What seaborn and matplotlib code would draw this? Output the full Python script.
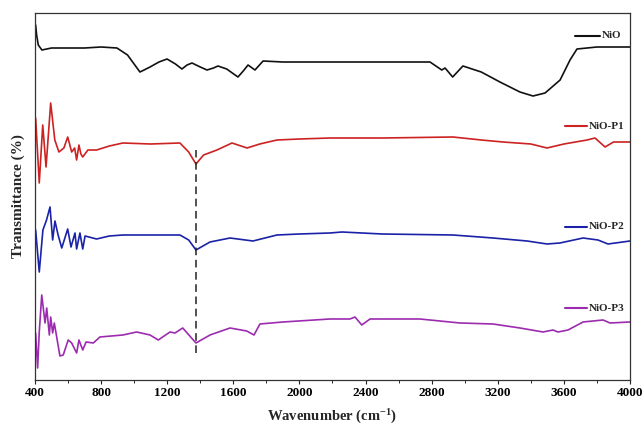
import matplotlib
matplotlib.use("Agg")
import matplotlib.pyplot as plt
import seaborn as sns
import pandas as pd
from matplotlib.ticker import MultipleLocator, NullLocator

# ---- data (offset transmittance, arbitrary units) ----
nio_wn = [404, 410, 420, 442, 500, 600, 700, 800, 896, 960, 1035, 1060, 1096, 1150, 1199, 1250,
          1289, 1320, 1350, 1400, 1441, 1480, 1507, 1560, 1628, 1660, 1689, 1731, 1780, 1900,
          2185, 2500, 2790, 2861, 2881, 2927, 2989, 3100, 3213, 3334, 3413, 3486, 3577, 3637,
          3679, 3800, 4000]
nio_t = [355, 345, 335, 330, 332, 332, 332, 333, 332, 325, 308, 310, 313, 318, 321, 316,
         311, 315, 317, 313, 310, 312, 314, 311, 303, 309, 315, 310, 319, 318,
         318, 318, 318, 310, 312, 303, 314, 308, 298, 288, 284, 287, 300, 320,
         331, 333, 333]

p1_wn = [404, 426, 447, 467, 495, 520, 545, 575, 598, 622, 640, 652, 666, 678, 689, 720, 773,
         850, 932, 1100, 1277, 1330, 1374, 1420, 1501, 1592, 1683, 1760, 1864, 2000, 2185,
         2500, 2929, 3100, 3232, 3400, 3498, 3600, 3740, 3788, 3849, 3900, 4000]
p1_t = [262, 197, 255, 213, 277, 240, 228, 232, 243, 228, 232, 220, 235, 226, 223, 230, 230,
        234, 237, 236, 237, 228, 216, 225, 230, 237, 232, 236, 240, 241, 242,
        242, 243, 240, 238, 236, 232, 236, 240, 242, 233, 238, 238]

p2_wn = [404, 426, 448, 470, 491, 507, 521, 540, 562, 598, 618, 642, 652, 672, 689, 703, 773,
         850, 932, 1100, 1277, 1330, 1374, 1459, 1580, 1719, 1864, 2000, 2185, 2257, 2500,
         2929, 3171, 3377, 3498, 3576, 3716, 3806, 3867, 4000]
p2_t = [150, 108, 150, 160, 173, 140, 159, 145, 132, 151, 133, 147, 131, 147, 131, 144, 141,
        144, 145, 145, 145, 140, 130, 138, 142, 139, 145, 146, 147, 148, 146,
        145, 142, 139, 136, 137, 142, 140, 136, 139]

p3_wn = [404, 416, 426, 441, 461, 471, 487, 495, 507, 517, 551, 571, 601, 622, 652, 666, 689,
         709, 753, 793, 932, 1015, 1096, 1146, 1217, 1247, 1294, 1374, 1459, 1580, 1681,
         1725, 1761, 1900, 2185, 2306, 2336, 2377, 2427, 2729, 2971, 3171, 3334, 3474, 3534,
         3564, 3625, 3716, 3837, 3879, 4000]
p3_t = [47, 12, 48, 85, 57, 72, 45, 63, 47, 57, 24, 25, 40, 37, 27, 40, 30,
        38, 37, 43, 45, 48, 45, 40, 48, 47, 52, 37, 45, 52, 49,
        45, 56, 58, 61, 61, 63, 55, 61, 61, 57, 56, 52, 48, 50,
        48, 50, 58, 60, 57, 58]

labels = ["NiO", "NiO-P1", "NiO-P2", "NiO-P3"]
colors = ["#111111", "#cc2222", "#1a22a8", "#9c2bb0"]
x_ticks = [400, 800, 1200, 1600, 2000, 2400, 2800, 3200, 3600, 4000]
marker_wn = 1374
marker_top = 230
marker_bottom = 27

# ---- plotting ----
sns.set_style("ticks")
plt.rcParams["font.family"] = ["Liberation Serif", "DejaVu Serif"]
plt.rcParams["font.weight"] = "bold"
plt.rcParams["mathtext.fontset"] = "custom"
plt.rcParams["mathtext.rm"] = "Liberation Serif:bold"
plt.rcParams["mathtext.bf"] = "Liberation Serif:bold"
plt.rcParams["mathtext.default"] = "bf"

fig = plt.figure(figsize=(6.44, 4.25), dpi=100)
ax = fig.add_axes([0.0543, 0.1059, 0.9240, 0.8635])

series = [(nio_wn, nio_t), (p1_wn, p1_t), (p2_wn, p2_t), (p3_wn, p3_t)]
for (wn, t), lab, col in zip(series, labels, colors):
    df = pd.DataFrame({"wn": wn, "t": t})
    sns.lineplot(data=df, x="wn", y="t", color=col, linewidth=1.2, ax=ax,
                 estimator=None, sort=False)

ax.plot([marker_wn, marker_wn], [marker_bottom, marker_top], color="#222222",
        linestyle=(0, (5, 3)), linewidth=1.1)

ax.set_xlim(400, 4000)
ax.set_ylim(0, 367)
ax.set_xticks(x_ticks)
ax.xaxis.set_minor_locator(MultipleLocator(200))
ax.yaxis.set_major_locator(NullLocator())
ax.tick_params(axis="x", which="major", direction="out", length=3, width=0.8,
               labelsize=9.5, pad=2, colors="#222222")
ax.tick_params(axis="x", which="minor", direction="out", length=2, width=0.7)
for lbl in ax.get_xticklabels():
    lbl.set_fontweight("bold")
    lbl.set_color("black")
for s in ax.spines.values():
    s.set_visible(True)
    s.set_linewidth(0.9)
    s.set_color("#333333")

ax.set_xlabel("Wavenumber (cm$^{-1}$)", fontsize=10.5, fontweight="bold", labelpad=6)
ax.set_ylabel("Transmittance (%)", fontsize=11, fontweight="bold", labelpad=7)

# per-curve labels with short line keys
key_pos = [(0.908, 0.950, 0.938), (0.891, 0.928, 0.692), (0.891, 0.928, 0.417), (0.891, 0.928, 0.196)]
for (x0, x1, yk), lab, col in zip(key_pos, labels, colors):
    ax.plot([x0, x1], [yk, yk], color=col, linewidth=1.5, transform=ax.transAxes)
    ax.text(x1 + 0.003, yk, lab, transform=ax.transAxes, fontsize=8,
            fontweight="bold", va="center", ha="left")

fig.savefig("out.png", dpi=100)
